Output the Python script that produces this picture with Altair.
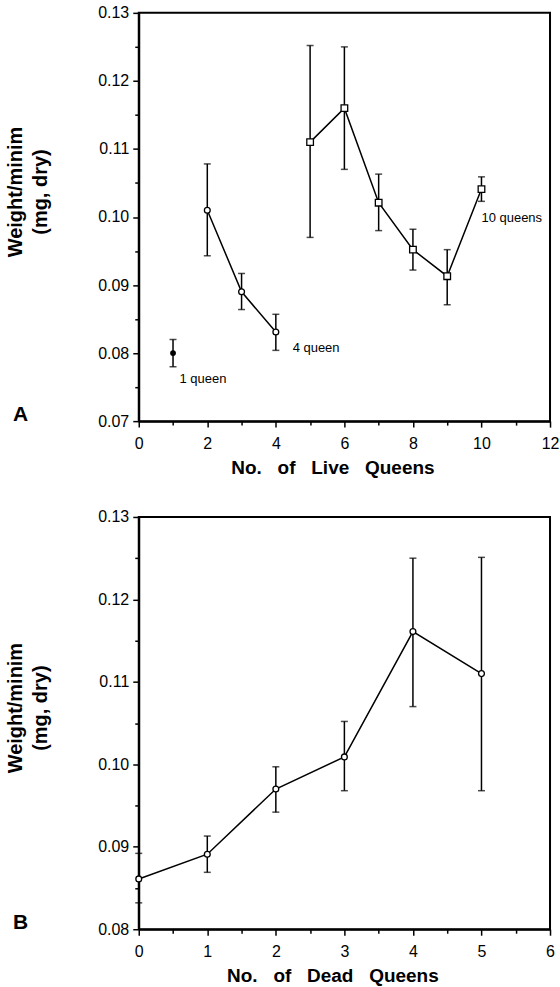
import altair as alt
import pandas as pd

# ---------------- Panel A: live queens ----------------
live_x = [1, 2, 3, 4, 5, 6, 7, 8, 9, 10]
live_mean = [0.0800, 0.1010, 0.0890, 0.0831, 0.1110, 0.1160, 0.1021, 0.0952, 0.0913, 0.1041]
live_hi = [0.0820, 0.1078, 0.0917, 0.0857, 0.1252, 0.1250, 0.1063, 0.0982, 0.0952, 0.1059]
live_lo = [0.0780, 0.0943, 0.0864, 0.0804, 0.0970, 0.1070, 0.0980, 0.0922, 0.0871, 0.1023]
live_group = ["single", "low", "low", "low", "high", "high", "high", "high", "high", "high"]
live_marker = ["filled", "circle", "circle", "circle", "square", "square", "square", "square", "square", "square"]

ann_text = ["1 queen", "4 queen", "10 queens"]
ann_x = [1.19, 4.49, 10.0]
ann_y = [0.0762, 0.0808, 0.0999]

# ---------------- Panel B: dead queens ----------------
dead_x = [0, 1, 2, 3, 4, 5]
dead_mean = [0.0861, 0.0891, 0.0970, 0.1009, 0.1161, 0.1110]
dead_hi = [0.0892, 0.0913, 0.0997, 0.1052, 0.1250, 0.1251]
dead_lo = [0.0832, 0.0869, 0.0942, 0.0968, 0.1070, 0.0968]

y_ticks_a = [0.07, 0.075, 0.08, 0.085, 0.09, 0.095, 0.10, 0.105, 0.11, 0.115, 0.12, 0.125, 0.13]
y_ticks_b = [0.08, 0.085, 0.09, 0.095, 0.10, 0.105, 0.11, 0.115, 0.12, 0.125, 0.13]
x_ticks_a = [0, 1, 2, 3, 4, 5, 6, 7, 8, 9, 10, 11, 12]
x_ticks_b = [0, 0.5, 1, 1.5, 2, 2.5, 3, 3.5, 4, 4.5, 5, 5.5, 6]

dfA = pd.DataFrame({"x": live_x, "mean": live_mean, "hi": live_hi, "lo": live_lo,
                    "grp": live_group, "marker": live_marker})
dfAnn = pd.DataFrame({"text": ann_text, "x": ann_x, "y": ann_y})
dfB = pd.DataFrame({"x": dead_x, "mean": dead_mean, "hi": dead_hi, "lo": dead_lo})

FONT = "Liberation Sans"
Y_TITLE = ["Weight/minim", "(mg, dry)"]
SP = "\u00a0\u00a0\u00a0"

y_major = "round(datum.value*1000) % 10 == 0"


def y_axis(values, title_y):
    return alt.Axis(
        values=values,
        labelExpr=f"{y_major} ? format(datum.value, '.2f') : ''",
        tickSize={"condition": {"test": y_major, "value": 6}, "value": 4},
        title=Y_TITLE, titleY=title_y, titlePadding=47, titleLineHeight=25,
        titleFontSize=20, labelPadding=4,
    )


def x_axis(values, major_test, title):
    return alt.Axis(
        values=values,
        labelExpr=f"{major_test} ? format(datum.value, 'd') : ''",
        tickSize={"condition": {"test": major_test, "value": 6}, "value": 4},
        title=title, titleX=194, labelPadding=8, titlePadding=7, titleFontSize=19,
    )


def panel(df, xdom, ydom, xax, yax):
    X = alt.X("x:Q", scale=alt.Scale(domain=xdom, nice=False, zero=False), axis=xax)

    def Y(f):
        return alt.Y(f, type="quantitative", scale=alt.Scale(domain=ydom, nice=False, zero=False), axis=yax)

    base = alt.Chart(df)
    bars = base.mark_rule(color="black", strokeWidth=1.5).encode(x=X, y=Y("lo"), y2="hi:Q")
    cap_hi = base.mark_tick(color="black", orient="horizontal", size=7, thickness=1.5).encode(x=X, y=Y("hi"))
    cap_lo = base.mark_tick(color="black", orient="horizontal", size=7, thickness=1.5).encode(x=X, y=Y("lo"))
    return base, X, Y, [bars, cap_hi, cap_lo]


# ---- Panel A
xaxA = x_axis(x_ticks_a, "datum.value % 2 == 0", f"No.{SP}of{SP}Live{SP}Queens")
yaxA = y_axis(y_ticks_a, 179)
baseA, XA, YA, errA = panel(dfA, [0, 12], [0.07, 0.13], xaxA, yaxA)

lineA = baseA.transform_filter("datum.grp != 'single'").mark_line(color="black", strokeWidth=1.5).encode(
    x=XA, y=YA("mean"), detail="grp:N")
filledA = baseA.transform_filter("datum.marker == 'filled'").mark_point(
    shape="circle", filled=True, color="black", size=34, opacity=1).encode(x=XA, y=YA("mean"))
circA = baseA.transform_filter("datum.marker == 'circle'").mark_point(
    shape="circle", fill="white", stroke="black", strokeWidth=1.3, size=34, opacity=1).encode(x=XA, y=YA("mean"))
sqA = baseA.transform_filter("datum.marker == 'square'").mark_point(
    shape="square", fill="white", stroke="black", strokeWidth=1.3, size=44, opacity=1).encode(x=XA, y=YA("mean"))
annA = alt.Chart(dfAnn).mark_text(align="left", baseline="middle", font=FONT, fontSize=13, color="black").encode(
    x=XA, y=YA("y"), text="text:N")
letterA = alt.Chart(pd.DataFrame({"t": ["A"]})).mark_text(
    align="left", baseline="alphabetic", font=FONT, fontWeight="bold", fontSize=21, color="black").encode(
    text="t:N", x=alt.value(-126), y=alt.value(409))

chartA = alt.layer(*errA, lineA, filledA, circA, sqA, annA, letterA).properties(width=412, height=409)

# ---- Panel B
xaxB = x_axis(x_ticks_b, "datum.value % 1 == 0", f"No.{SP}of{SP}Dead{SP}Queens")
yaxB = y_axis(y_ticks_b, 191)
baseB, XB, YB, errB = panel(dfB, [0, 6], [0.08, 0.13], xaxB, yaxB)
lineB = baseB.mark_line(color="black", strokeWidth=1.5).encode(x=XB, y=YB("mean"))
circB = baseB.mark_point(shape="circle", fill="white", stroke="black", strokeWidth=1.3, size=34, opacity=1).encode(
    x=XB, y=YB("mean"))
letterB = alt.Chart(pd.DataFrame({"t": ["B"]})).mark_text(
    align="left", baseline="alphabetic", font=FONT, fontWeight="bold", fontSize=21, color="black").encode(
    text="t:N", x=alt.value(-126), y=alt.value(413))

chartB = alt.layer(*errB, lineB, circB, letterB).properties(width=412, height=413)

chart = alt.vconcat(chartA, chartB, spacing=30).configure(
    padding={"left": 4, "top": 3, "right": 0, "bottom": 0},
    background="white",
).configure_view(
    stroke="black", strokeWidth=2,
).configure_axis(
    grid=False, domainColor="black", domainWidth=2, tickColor="black", tickWidth=1.5,
    labelFont=FONT, labelFontSize=16, labelColor="black", labelOverlap=False, labelFlush=False,
    titleFont=FONT, titleFontWeight="bold", titleColor="black",
)

chart.save("out.html", embed_options={"renderer": "svg", "actions": False})
